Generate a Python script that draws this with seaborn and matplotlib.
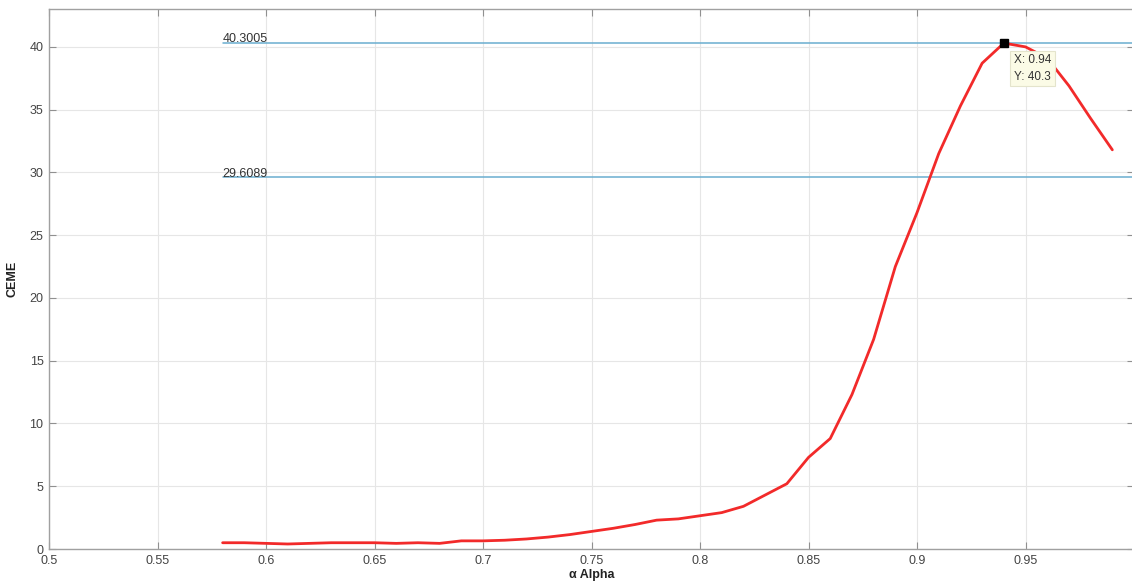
import numpy as np
import pandas as pd
import matplotlib
matplotlib.use("Agg")
import matplotlib.pyplot as plt
import seaborn as sns

# CEME values, alpha step 0.01
alpha = [0.58, 0.59, 0.60, 0.61, 0.62, 0.63, 0.64, 0.65, 0.66, 0.67, 0.68,
         0.69, 0.70, 0.71, 0.72, 0.73, 0.74, 0.75, 0.76, 0.77, 0.78, 0.79,
         0.80, 0.81, 0.82, 0.83, 0.84, 0.85, 0.86, 0.87, 0.88, 0.89, 0.90,
         0.91, 0.92, 0.93, 0.94, 0.95, 0.96, 0.97, 0.98, 0.99]
ceme = [0.5, 0.5, 0.45, 0.4, 0.45, 0.5, 0.5, 0.5, 0.45, 0.5, 0.45,
        0.65, 0.65, 0.7, 0.8, 0.95, 1.15, 1.4, 1.65, 1.95, 2.3, 2.4,
        2.65, 2.9, 3.4, 4.3, 5.2, 7.3, 8.8, 12.3, 16.7, 22.5, 26.8,
        31.5, 35.3, 38.7, 40.3005, 40.0, 39.1, 36.9, 34.3, 31.8]

levels = [40.3005, 29.6089]
level_labels = ['40.3005', '29.6089']
line_start = 0.58
peak_x = 0.94
peak_y = 40.3005

df = pd.DataFrame({'alpha': alpha, 'ceme': ceme})

sns.set_theme(style="whitegrid")
plt.rcParams['font.family'] = ['Liberation Sans', 'DejaVu Sans']

fig = plt.figure(figsize=(11.32, 5.88), dpi=100)
ax = fig.add_axes([0.0433, 0.0663, 0.9585, 0.918])

for lv, lab in zip(levels, level_labels):
    ax.plot([line_start, 1.0], [lv, lv], color='#6aaed0', lw=1.1, zorder=2)
    ax.text(line_start, lv + 0.05, lab, fontsize=9, color='#333333',
            ha='left', va='baseline')

sns.lineplot(data=df, x='alpha', y='ceme', color='#f22a2a', lw=2, ax=ax, zorder=3)

ax.plot([peak_x], [peak_y], marker='s', color='black', markersize=6, zorder=5)
ax.text(peak_x + 0.0045, peak_y - 0.9, 'X: 0.94\nY: 40.3', fontsize=8.5,
        color='#333333', ha='left', va='top', linespacing=1.5,
        bbox=dict(boxstyle='square,pad=0.3', fc='#fbfbe6', ec='#e4e4cc', lw=0.8),
        zorder=6)

ax.set_xlim(0.5, 1.0)
ax.set_ylim(0, 43)
ax.set_xticks([0.5, 0.55, 0.6, 0.65, 0.7, 0.75, 0.8, 0.85, 0.9, 0.95])
ax.set_xticklabels(['0.5', '0.55', '0.6', '0.65', '0.7', '0.75', '0.8', '0.85', '0.9', '0.95'])
ax.set_yticks([0, 5, 10, 15, 20, 25, 30, 35, 40])

ax.grid(True, color='#e6e6e6', lw=0.8)
for s in ax.spines.values():
    s.set_visible(True)
    s.set_color('#a0a0a0')
    s.set_linewidth(1.0)
ax.tick_params(direction='in', length=5, width=0.8, color='#909090',
               labelsize=9, labelcolor='#444444', top=True, right=True,
               bottom=True, left=True, pad=4)

ax.set_xlabel('\u03b1 Alpha', fontsize=9, fontweight='bold', color='#222222', labelpad=2)
ax.set_ylabel('CEME', fontsize=9, fontweight='bold', color='#222222', labelpad=8)

fig.savefig('out.png', dpi=100)
